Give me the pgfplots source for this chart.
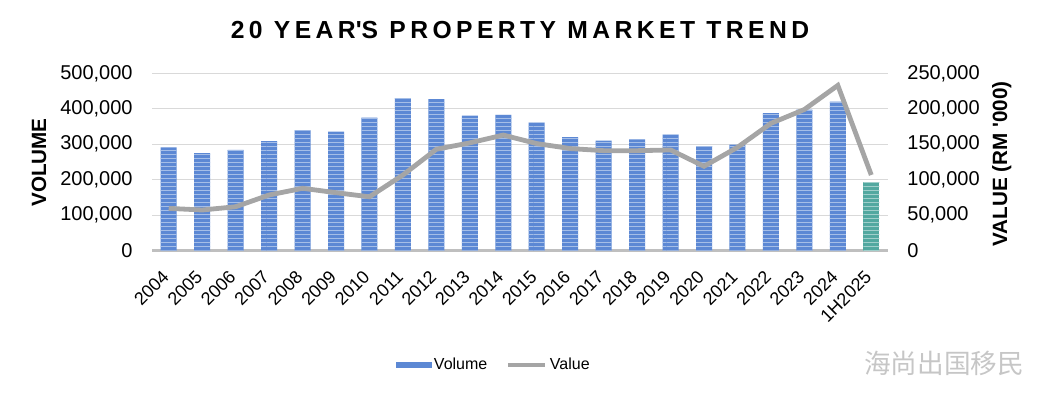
\documentclass[border=0pt]{standalone}
\usepackage{pgfplots}
\pgfplotsset{compat=1.18}
\usepackage{fontspec}
\setmainfont{Liberation Sans}
\newfontfamily\cjk{Noto Sans CJK SC}
\usetikzlibrary{patterns}
\definecolor{barblue}{RGB}{92,136,212}
\definecolor{barteal}{RGB}{82,168,160}
\definecolor{linegray}{RGB}{165,165,165}
\definecolor{gridgray}{RGB}{217,217,217}
\definecolor{basegray}{RGB}{191,191,191}
\begin{document}
\begin{tikzpicture}
\useasboundingbox (0,0) rectangle (780.75pt,296.25pt);
\node[font=\bfseries\fontsize{18.5}{21}\selectfont\addfontfeature{LetterSpace=18}] at (390pt,273.75pt) {20 YEAR\textquotesingle S PROPERTY MARKET TREND};
\begin{axis}[
  at={(114pt,108.2pt)}, anchor=south west,
  scale only axis, width=552pt, height=133.05pt,
  xmin=-0.5, xmax=21.5, ymin=0, ymax=500000,
  axis y line*=left, axis x line*=bottom,
  y axis line style={draw=none},
  x axis line style={draw=basegray, line width=2.2pt},
  major tick length=0pt,
  xtick={0,...,21},
  xticklabels={2004,2005,2006,2007,2008,2009,2010,2011,2012,2013,2014,2015,2016,2017,2018,2019,2020,2021,2022,2023,2024,1H2025},
  xticklabel style={rotate=45, anchor=east, inner sep=0pt, xshift=-14pt, yshift=-10.8pt, font=\fontsize{13.5}{16}\selectfont},
  ytick={0,100000,...,500000},
  ymajorgrids, grid style={draw=gridgray, line width=0.8pt},
  scaled y ticks=false,
  yticklabel style={font=\fontsize{15}{18}\selectfont, xshift=-11pt, /pgf/number format/.cd, fixed, 1000 sep={,}, assume math mode=true},
  ylabel={VOLUME},
  ylabel style={font=\bfseries\fontsize{15.5}{18}\selectfont, at={(axis description cs:-0.1535,0.497)}, anchor=center},
]
\addplot[ybar, bar width=12pt, bar shift=0pt, fill=barblue, draw=none,
  postaction={pattern=horizontal lines, pattern color=white!45!barblue}]
coordinates {(0,291000) (1,275000) (2,284000) (3,309000) (4,339000) (5,336000) (6,375000) (7,430000) (8,427000) (9,381000) (10,383000) (11,361000) (12,320000) (13,310000) (14,314000) (15,327000) (16,295000) (17,299000) (18,388000) (19,398000) (20,420000)};
\addplot[ybar, bar width=12pt, bar shift=0pt, fill=barteal, draw=none,
  postaction={pattern=horizontal lines, pattern color=white!45!barteal}]
coordinates {(21,193000)};
\end{axis}
\begin{axis}[
  at={(114pt,108.2pt)}, anchor=south west,
  scale only axis, width=552pt, height=133.05pt,
  xmin=-0.5, xmax=21.5, ymin=0, ymax=250000,
  axis y line*=right, axis x line=none,
  y axis line style={draw=none},
  major tick length=0pt,
  xtick=\empty,
  ytick={0,50000,...,250000},
  scaled y ticks=false,
  yticklabel style={font=\fontsize{15}{18}\selectfont, xshift=11pt, /pgf/number format/.cd, fixed, 1000 sep={,}, assume math mode=true},
  ylabel={VALUE (RM \textquotesingle 000)},
  ylabel style={font=\bfseries\fontsize{15.5}{18}\selectfont, at={(axis description cs:1.1545,0.489)}, anchor=center},
  legend style={at={(axis description cs:0.465,-0.644)}, anchor=center, draw=none, fill=none, legend columns=2, font=\fontsize{12}{14}\selectfont, /tikz/every even column/.append style={column sep=12pt}},
  legend cell align=left,
]
\addlegendimage{area legend, legend image code/.code={\fill[barblue] (0pt,-2pt) rectangle (26pt,2pt);}}
\addlegendentry{Volume}
\addlegendimage{legend image code/.code={\draw[linegray, line width=3pt] (0pt,0pt) -- (28pt,0pt);}}
\addlegendentry{Value}
\addplot[color=linegray, line width=3.6pt, mark=none]
coordinates {(0,59700) (1,57400) (2,62000) (3,78500) (4,88000) (5,81800) (6,76000) (7,106700) (8,143000) (9,152000) (10,163000) (11,151000) (12,144000) (13,141000) (14,141000) (15,142000) (16,119000) (17,145700) (18,179500) (19,199000) (20,233000) (21,106700)};
\end{axis}
\node[font=\cjk\fontsize{20}{22}\selectfont, text=gray!45] at (708pt,24pt) {海尚出国移民};
\end{tikzpicture}
\end{document}
